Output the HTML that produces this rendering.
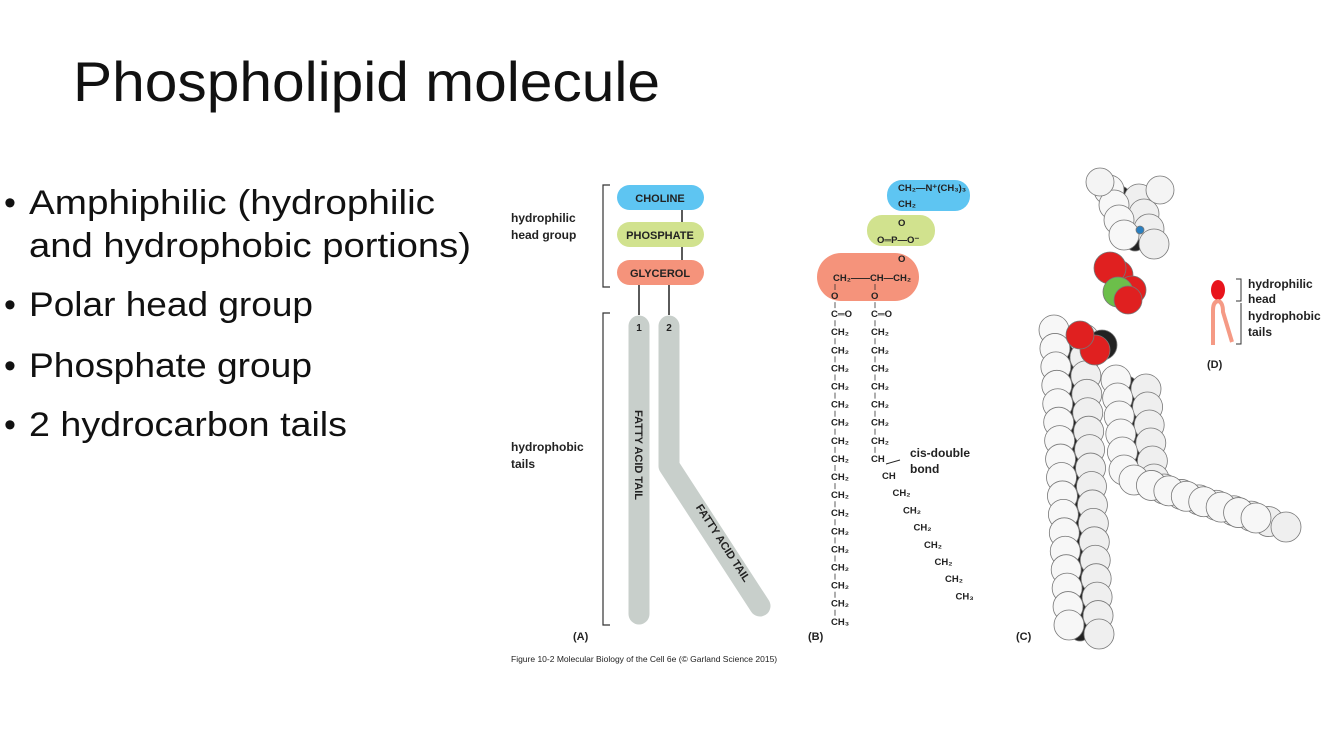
<!DOCTYPE html>
<html><head><meta charset="utf-8"><style>
body{margin:0;background:#fff;width:1340px;height:733px;overflow:hidden;font-family:"Liberation Sans",sans-serif}
svg{position:absolute;left:0;top:0}
</style></head><body>
<svg width="1340" height="733" viewBox="0 0 1340 733">
<text x="73" y="101" font-size="56" fill="#111" textLength="587" lengthAdjust="spacingAndGlyphs">Phospholipid molecule</text>
<g font-size="34" fill="#111">
<text x="4" y="214">•</text>
<text x="29" y="214" textLength="406" lengthAdjust="spacingAndGlyphs">Amphiphilic (hydrophilic</text>
<text x="29" y="257" textLength="442" lengthAdjust="spacingAndGlyphs">and hydrophobic portions)</text>
<text x="4" y="316">•</text>
<text x="29" y="316" textLength="284" lengthAdjust="spacingAndGlyphs">Polar head group</text>
<text x="4" y="377">•</text>
<text x="29" y="377" textLength="283" lengthAdjust="spacingAndGlyphs">Phosphate group</text>
<text x="4" y="436">•</text>
<text x="29" y="436" textLength="318" lengthAdjust="spacingAndGlyphs">2 hydrocarbon tails</text>
</g>
<g font-weight="bold" font-size="12" fill="#222">
<text x="511" y="222">hydrophilic</text>
<text x="511" y="239">head group</text>
<text x="511" y="451">hydrophobic</text>
<text x="511" y="468">tails</text>
<path d="M610 185H603V287H610M610 313H603V625H610" fill="none" stroke="#333" stroke-width="1.2"/>
<line x1="682" y1="210" x2="682" y2="260" stroke="#222" stroke-width="1.5"/>
<line x1="639" y1="285" x2="639" y2="315" stroke="#222" stroke-width="1.5"/>
<line x1="669" y1="285" x2="669" y2="315" stroke="#222" stroke-width="1.5"/>
<rect x="617" y="185" width="87" height="25" rx="12.5" fill="#5ec5f2"/>
<text x="660" y="202" text-anchor="middle" font-size="11">CHOLINE</text>
<rect x="617" y="222" width="87" height="25" rx="12.5" fill="#d1e28e"/>
<text x="660" y="239" text-anchor="middle" font-size="11">PHOSPHATE</text>
<rect x="617" y="260" width="87" height="25" rx="12.5" fill="#f5937b"/>
<text x="660" y="277" text-anchor="middle" font-size="11">GLYCEROL</text>
<path d="M639 326V614" stroke="#c8cfcb" stroke-width="21" stroke-linecap="round" fill="none"/>
<path d="M669 326V466L760 606" stroke="#c8cfcb" stroke-width="21" stroke-linecap="round" stroke-linejoin="round" fill="none"/>
<text x="639" y="331" text-anchor="middle" font-size="10">1</text>
<text x="669" y="331" text-anchor="middle" font-size="10">2</text>
<text transform="translate(635,455) rotate(90)" text-anchor="middle" font-size="11">FATTY ACID TAIL</text>
<text transform="translate(720,545) rotate(57)" text-anchor="middle" font-size="11">FATTY ACID TAIL</text>
<text x="573" y="640" font-size="11">(A)</text>
<text x="511" y="662" font-size="8.5" font-weight="normal">Figure 10-2  Molecular Biology of the Cell 6e (© Garland Science 2015)</text>
</g>
<g font-weight="bold" font-size="9.5" fill="#222" id="pb">
<rect x="887" y="180" width="83" height="31" rx="15" fill="#5ec5f2"/>
<rect x="867" y="215" width="68" height="31" rx="15" fill="#d1e28e"/>
<rect x="817" y="253" width="102" height="48" rx="24" fill="#f5937b"/>
<text x="898" y="191">CH₂—N⁺(CH₃)₃</text>
<text x="898" y="207">CH₂</text>
<text x="898" y="226">O</text>
<text x="877" y="243">O═P—O⁻</text>
<text x="898" y="262">O</text>
<text x="833" y="281">CH₂——CH—CH₂</text>
<text x="910" y="457" font-size="12">cis-double</text>
<text x="910" y="473" font-size="12">bond</text>
<line x1="900" y1="460" x2="886" y2="464" stroke="#222"/>
<text x="808" y="640" font-size="11">(B)</text>
</g>
<g id="pc">
<text x="1016" y="640" font-size="11" font-weight="bold" fill="#222">(C)</text>
</g>
<g font-weight="bold" font-size="12" fill="#222">
<ellipse cx="1218" cy="290" rx="7" ry="10" fill="#e8141c"/>
<path d="M1213 345V310Q1213 302 1218 301Q1223 302 1223 312L1232 342" stroke="#f59a85" stroke-width="4" fill="none"/>
<path d="M1236 279H1241V301H1236M1241 303V344H1236" stroke="#333" fill="none"/>
<text x="1248" y="288">hydrophilic</text>
<text x="1248" y="303">head</text>
<text x="1248" y="320">hydrophobic</text>
<text x="1248" y="336">tails</text>
<text x="1207" y="368" font-size="11">(D)</text>
</g>
</svg>
<script>
const ns="http://www.w3.org/2000/svg";
const chain1=["O","C═O","CH₂","CH₂","CH₂","CH₂","CH₂","CH₂","CH₂","CH₂","CH₂","CH₂","CH₂","CH₂","CH₂","CH₂","CH₂","CH₂","CH₃"];
const chain2=["O","C═O","CH₂","CH₂","CH₂","CH₂","CH₂","CH₂","CH₂","CH","CH","CH₂","CH₂","CH₂","CH₂","CH₂","CH₂","CH₃"];
const pb=document.getElementById('pb');
function t(x,y,s){const e=document.createElementNS(ns,'text');e.setAttribute('x',x);e.setAttribute('y',y);e.textContent=s;pb.appendChild(e);}
function bond(x,y1,y2){const l=document.createElementNS(ns,'line');l.setAttribute('x1',x);l.setAttribute('x2',x);l.setAttribute('y1',y1);l.setAttribute('y2',y2);l.setAttribute('stroke','#333');l.setAttribute('stroke-width','0.8');pb.appendChild(l);}
chain1.forEach((s,i)=>{t(831,299+i*18.1,s);bond(835,284+i*18.1,290+i*18.1);});
chain2.forEach((s,i)=>{let x=871,y=299+i*18.1;if(i>=10){x=882+(i-10)*10.5;y=479+(i-10)*17.2;}else bond(875,284+i*18.1,290+i*18.1);t(x,y,s);});
const pc=document.getElementById('pc');
function c(x,y,r,f){const e=document.createElementNS(ns,'circle');e.setAttribute('cx',x);e.setAttribute('cy',y);e.setAttribute('r',r);e.setAttribute('fill',f);e.setAttribute('stroke','#777');e.setAttribute('stroke-width','0.8');pc.insertBefore(e,pc.lastElementChild);}
function seg(x1,y1,x2,y2,n){for(let i=0;i<=n;i++){const x=x1+(x2-x1)*i/n,y=y1+(y2-y1)*i/n;c(x-5,y+6,10,'#222');}
for(let i=0;i<=n;i++){const x=x1+(x2-x1)*i/n,y=y1+(y2-y1)*i/n;c(x-16,y,15,'#f7f7f7');c(x+14,y+9,15,'#efefef');}}
seg(1132,380,1140,470,5);
seg(1150,480,1272,518,7);
seg(1070,330,1085,625,16);
seg(1125,190,1140,235,3);
c(1100,182,14,'#f4f4f4');c(1160,190,14,'#f4f4f4');c(1140,230,4,'#2a7fc0');
c(1102,345,15,'#222');c(1118,275,15,'#e02020');c(1132,290,14,'#e02020');c(1110,268,16,'#e02020');c(1118,292,15,'#6cbf4a');c(1128,300,14,'#e02020');c(1095,350,15,'#e02020');c(1080,335,14,'#e02020');
</script>
</body></html>
